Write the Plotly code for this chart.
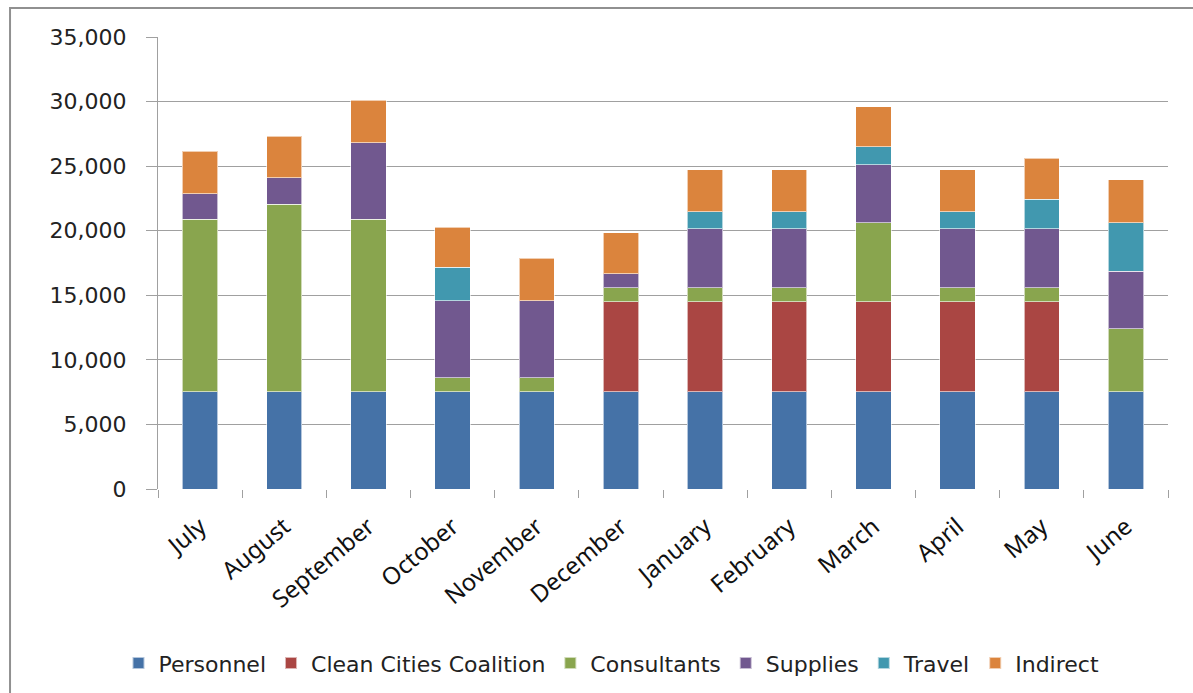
import plotly.graph_objects as go

months = ["July", "August", "September", "October", "November", "December",
          "January", "February", "March", "April", "May", "June"]

personnel = [7540, 7540, 7540, 7540, 7540, 7540, 7540, 7540, 7540, 7540, 7540, 7540]
clean_cities = [0, 0, 0, 0, 0, 6970, 6970, 6970, 6970, 6970, 6970, 0]
consultants = [13330, 14520, 13330, 1080, 1080, 1090, 1060, 1060, 6120, 1060, 1060, 4860]
supplies = [1990, 2060, 5940, 5970, 5970, 1080, 4580, 4580, 4470, 4580, 4580, 4470]
travel = [0, 0, 0, 2590, 0, 0, 1310, 1310, 1420, 1310, 2300, 3760]
indirect = [3280, 3210, 3310, 3070, 3280, 3180, 3260, 3260, 3080, 3260, 3170, 3310]

series = [
    ("Personnel", personnel, "#4572A7"),
    ("Clean Cities Coalition", clean_cities, "#AA4643"),
    ("Consultants", consultants, "#89A54E"),
    ("Supplies", supplies, "#71588F"),
    ("Travel", travel, "#4198AF"),
    ("Indirect", indirect, "#DB843D"),
]

fig = go.Figure()
for name, vals, color in series:
    fig.add_trace(go.Bar(
        name=name, x=months, y=[v if v else None for v in vals],
        marker=dict(color=color, line=dict(color="rgba(255,255,255,0.6)", width=1)),
    ))

fig.update_layout(
    barmode="stack",
    bargap=0.58,
    width=1193, height=693,
    margin=dict(l=158, r=25, t=37, b=204),
    paper_bgcolor="white", plot_bgcolor="white",
    font=dict(family="DejaVu Sans", color="#222222"),
    legend=dict(orientation="h", x=0.449, xanchor="center", y=0.043, yanchor="middle",
                yref="container", traceorder="normal",
                font=dict(family="DejaVu Sans", size=22, color="#222222"),
                itemwidth=30, itemsizing="constant"),
    showlegend=True,
)
fig.update_yaxes(range=[0, 35000], dtick=5000, tickformat=",d",
                 showgrid=True, gridcolor="#A0A0A0", gridwidth=1,
                 showline=True, linecolor="#A0A0A0", linewidth=1,
                 ticks="outside", ticklen=11, tickcolor="#A0A0A0",
                 ticklabelstandoff=15,
                 tickfont=dict(family="DejaVu Sans", size=22, color="#222222"),
                 zeroline=False)
fig.update_xaxes(tickangle=-40, ticks="outside", tickson="boundaries", ticklen=8,
                 tickcolor="#A0A0A0", showline=False, ticklabelstandoff=18,
                 tickfont=dict(family="Noto Sans", size=24, color="#111111"))

fig.add_shape(type="rect", xref="paper", yref="paper",
              x0=-0.1465, x1=1.2, y0=-0.7, y1=1.064,
              line=dict(color="#909090", width=2), fillcolor="rgba(0,0,0,0)", layer="below")

fig.write_html("out.html")
